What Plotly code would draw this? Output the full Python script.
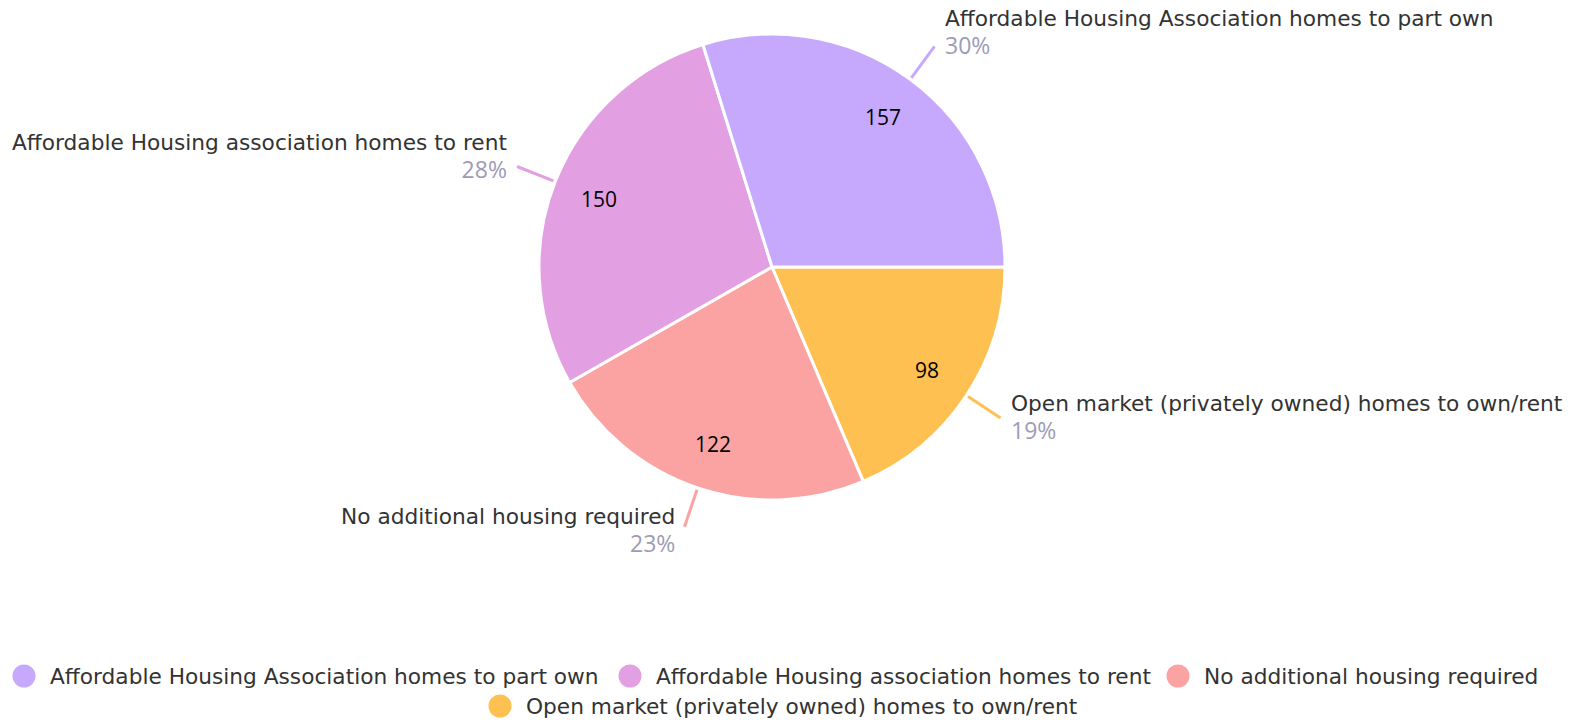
import math
import plotly.graph_objects as go

# ---- data ----
categories = [
    "Affordable Housing Association homes to part own",
    "Affordable Housing association homes to rent",
    "No additional housing required",
    "Open market (privately owned) homes to own/rent",
]
values = [157, 150, 122, 98]
colors = ["#C6A8FC", "#E2A0E2", "#FBA3A3", "#FEC151"]

# ---- geometry / style (pixels, relative to the figure's top-left) ----
W, H = 1579, 720
OFF = 8  # page body margin in the browser
CX, CY, R = 772 - OFF, 267 - OFF, 233
NAME_FONT = "DejaVu Sans"
NUM_FONT = "Open Sans"
NAME_SIZE = 21.7
LABEL_COLOR = "#333333"
PCT_COLOR = "#9C9CB6"
# legend layout: (circle centre x, text start x, row centre y)
LEGEND_POS = [(24, 48, 676), (630, 654, 676), (1178, 1202, 676), (500, 524, 706)]
LEGEND_DOT = 23


def px(x):
    return x / W


def py(y):
    return 1 - y / H


fig = go.Figure()
# plotted clockwise from 3 o'clock in reverse order == counter-clockwise in data order
fig.add_trace(go.Pie(
    labels=categories[::-1],
    values=values[::-1],
    marker=dict(colors=colors[::-1], line=dict(color="white", width=3)),
    sort=False,
    direction="clockwise",
    rotation=90,
    textinfo="none",
    hoverinfo="label+value+percent",
    showlegend=False,
    domain=dict(x=[px(CX - R), px(CX + R)], y=[py(CY + R), py(CY - R)]),
))

total = sum(values)
shapes = []
annotations = []
cum = 0.0
for name, v, col in zip(categories, values, colors):
    frac = v / total
    mid = (cum + frac / 2) * 2 * math.pi
    cum += frac
    c, s = math.cos(mid), math.sin(mid)
    # value label inside the slice
    rv = R * 0.80
    annotations.append(dict(
        x=px(CX + rv * c), y=py(CY - rv * s), xref="paper", yref="paper",
        text=str(v), showarrow=False, font=dict(family=NUM_FONT, size=21, color="#000000"),
        xanchor="center", yanchor="middle",
    ))
    # leader line
    r1, r2 = R + 2, R + 41
    x1, y1 = CX + r1 * c, CY - r1 * s
    x2, y2 = CX + r2 * c, CY - r2 * s
    shapes.append(dict(type="line", xref="paper", yref="paper",
                       x0=px(x1), y0=py(y1), x1=px(x2), y1=py(y2),
                       line=dict(color=col, width=3)))
    right = c >= 0
    pct = round(frac * 100)
    txt = (f"<span style='font-family:{NAME_FONT};color:{LABEL_COLOR}'>{name}</span><br>"
           f"<span style='font-family:{NUM_FONT};font-size:23px;color:{PCT_COLOR}'>{pct}%</span>")
    annotations.append(dict(
        x=px(x2 + (8 if right else -8)), y=py(y2), xref="paper", yref="paper",
        text=txt, showarrow=False, align="left" if right else "right",
        xanchor="left" if right else "right", yanchor="middle",
        yshift=5 + 10 * s,
        font=dict(family=NAME_FONT, size=NAME_SIZE, color=LABEL_COLOR),
    ))

# manual legend with round markers
for name, col, (cx, tx, ry) in zip(categories, colors, LEGEND_POS):
    cx, tx, ry = cx - OFF, tx - OFF, ry - OFF
    shapes.append(dict(type="circle", xref="paper", yref="paper",
                       x0=px(cx - LEGEND_DOT / 2), x1=px(cx + LEGEND_DOT / 2),
                       y0=py(ry + LEGEND_DOT / 2), y1=py(ry - LEGEND_DOT / 2),
                       fillcolor=col, line=dict(width=0)))
    annotations.append(dict(
        x=px(tx), y=py(ry), xref="paper", yref="paper", text=name, showarrow=False,
        xanchor="left", yanchor="middle",
        font=dict(family=NAME_FONT, size=NAME_SIZE, color=LABEL_COLOR),
    ))

fig.update_layout(
    width=W, height=H,
    margin=dict(l=0, r=0, t=0, b=0),
    paper_bgcolor="white", plot_bgcolor="white",
    shapes=shapes, annotations=annotations,
    showlegend=False,
)

fig.write_html("out.html")
